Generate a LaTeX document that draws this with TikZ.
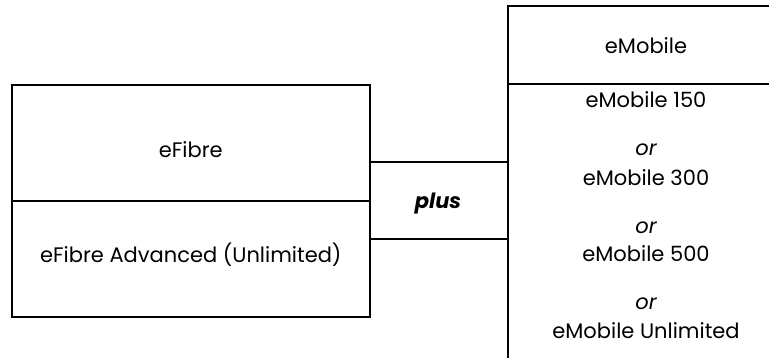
\documentclass[tikz,border=0pt]{standalone}
\usepackage{fontspec}
\setmainfont{Poppins}
\begin{document}
\begin{tikzpicture}[x=1pt,y=1pt,
  box/.style={draw=black,line width=2pt,rectangle,inner sep=0pt,outer sep=0pt},
  lbl/.style={font=\fontsize{21}{25}\selectfont,inner sep=0pt,anchor=base},
  orl/.style={font=\fontsize{21}{25}\selectfont\itshape,inner sep=0pt,anchor=base},
  link/.style={draw=black,line width=2pt}]
\useasboundingbox (0,0) rectangle (769,-357);
\clip (0,0) rectangle (769,-357);
\node[box,minimum width=358.3pt,minimum height=116pt] (fib) at (190.8,-142.7) {};
\node[box,minimum width=358.3pt,minimum height=116pt] (adv) at (190.8,-258.7) {};
\node[box,minimum width=278pt,minimum height=78.6pt,anchor=north west] (mob) at (507.7,-5.7) {};
\node[box,minimum width=278pt,minimum height=290pt,anchor=north west] (opt) at (mob.south west) {};
\node[lbl] (t1) at (190.8,-157) {eFibre};
\node[lbl] (t2) at (190.8,-262) {eFibre Advanced (Unlimited)};
\node[lbl] (t3) at (646,-53) {eMobile};
\node[lbl] (o1) at (646,-107) {eMobile 150};
\node[orl] (r1) at (646,-155) {or};
\node[lbl] (o2) at (646,-185) {eMobile 300};
\node[orl] (r2) at (646,-233) {or};
\node[lbl] (o3) at (646,-261) {eMobile 500};
\node[orl] (r3) at (646,-309) {or};
\node[lbl] (o4) at (646,-338) {eMobile Unlimited};
\node[font=\fontsize{21}{25}\selectfont\bfseries\itshape,inner sep=0pt,anchor=base] (plus) at (438,-208) {plus};
\coordinate (a1) at ([yshift=-19.6pt]fib.east);
\coordinate (a2) at ([yshift=19.4pt]adv.east);
\draw[link] (a1) -- (opt.west |- a1);
\draw[link] (a2) -- (opt.west |- a2);
\end{tikzpicture}
\end{document}
